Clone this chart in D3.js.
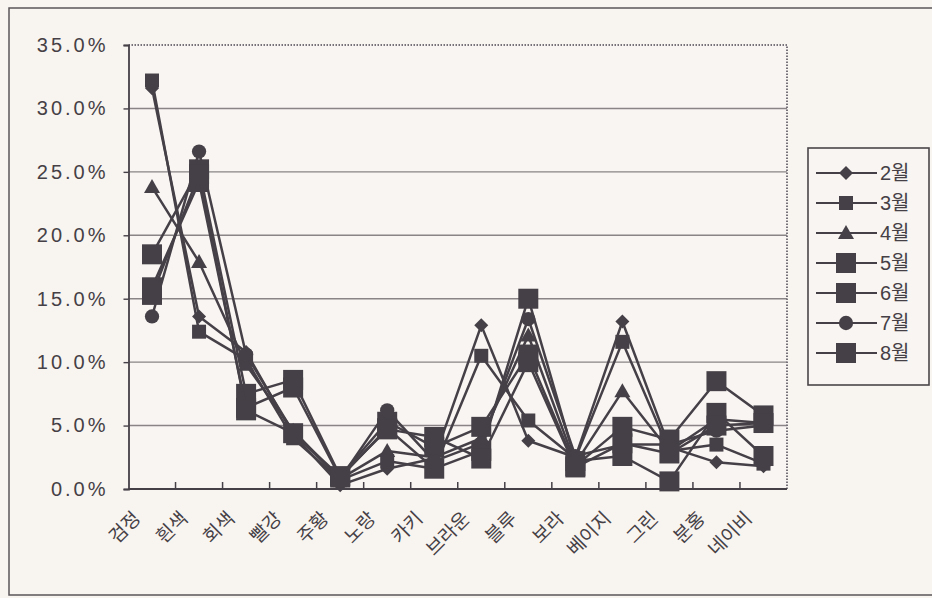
<!DOCTYPE html>
<html>
<head>
<meta charset="utf-8">
<script src="https://cdn.jsdelivr.net/npm/d3@7"></script>
<style>
  html, body { margin: 0; padding: 0; background: #f8f4f0; }
  svg { display: block; }
  text { font-family: "Liberation Sans", "Noto Sans CJK KR", sans-serif; fill: #454045; }
</style>
</head>
<body>
<svg id="chart" width="932" height="598"></svg>
<script>
// Colour categories (x axis)
const categories = ["검정", "흰색", "회색", "빨강", "주황", "노랑", "카키", "브라운", "블루", "보라", "베이지", "그린", "분홍", "네이비"];

// Monthly share per colour (%)
const feb = [31.6, 13.6, 10.8, 4.3, 0.3, 1.6, 2.4, 12.9, 3.8, 2.5, 13.2, 3.3, 2.1, 1.8];
const mar = [32.2, 12.4, 10.2, 4.0, 0.7, 2.2, 1.6, 10.5, 5.4, 2.4, 11.6, 3.0, 3.5, 2.0];
const apr = [23.8, 17.9, 9.8, 4.6, 0.8, 3.0, 2.5, 4.0, 12.1, 2.0, 7.7, 3.0, 5.5, 5.2];
const may = [18.5, 25.2, 7.5, 8.6, 1.0, 5.3, 3.3, 4.9, 10.6, 1.8, 4.9, 3.9, 8.5, 5.8];
const jun = [15.9, 24.2, 6.4, 8.0, 0.9, 4.8, 1.6, 3.0, 15.0, 2.2, 2.6, 0.6, 6.0, 2.6];
const jul = [13.6, 26.6, 10.6, 4.5, 0.8, 6.2, 2.2, 3.6, 13.4, 2.6, 3.5, 3.5, 4.6, 5.0];
const aug = [15.3, 24.8, 6.2, 4.4, 1.0, 4.7, 4.1, 2.4, 10.0, 1.7, 3.6, 2.8, 5.0, 5.2];

const seriesNames = ["2월", "3월", "4월", "5월", "6월", "7월", "8월"];
const seriesValues = [feb, mar, apr, may, jun, jul, aug];
const seriesMarkers = ["diamond", "smallSquare", "triangle", "bigSquare", "bigSquare", "circle", "bigSquare"];

// Y axis ticks (%)
const yTicks = [0, 5, 10, 15, 20, 25, 30, 35];

const ink = "#454047";
const svg = d3.select("#chart");

const plot = { left: 128.5, right: 787, top: 45, bottom: 489 };

const x = d3.scaleBand().domain(categories).range([plot.left, plot.right]).padding(0);
const y = d3.scaleLinear().domain([0, 35]).range([plot.bottom, plot.top]);

// outer frame
svg.append("rect")
  .attr("x", 9).attr("y", 8).attr("width", 940).attr("height", 587)
  .attr("fill", "#f8f4f0").attr("stroke", "#5a5558").attr("stroke-width", 1.5);

// plot background
svg.append("rect")
  .attr("x", plot.left).attr("y", plot.top)
  .attr("width", plot.right - plot.left).attr("height", plot.bottom - plot.top)
  .attr("fill", "#f8f5f2");

// gridlines
svg.append("g").selectAll("line")
  .data(yTicks.filter(d => d > 0 && d < 35))
  .join("line")
  .attr("x1", plot.left).attr("x2", plot.right)
  .attr("y1", d => y(d)).attr("y2", d => y(d))
  .attr("stroke", "#8a8486").attr("stroke-width", 1.4);

// dotted top and right border of the plot area
svg.append("path")
  .attr("d", `M${plot.left},${plot.top}H${plot.right}V${plot.bottom}`)
  .attr("fill", "none").attr("stroke", "#77727a").attr("stroke-width", 2)
  .attr("stroke-dasharray", "1.5,1.5");

// y axis
const yAxis = svg.append("g")
  .attr("transform", `translate(${plot.left},0)`)
  .call(d3.axisLeft(y).tickValues(yTicks).tickSize(5).tickPadding(15)
    .tickFormat(d => d.toFixed(1) + "%"));
yAxis.select(".domain").attr("stroke", ink).attr("stroke-width", 1.8);
yAxis.selectAll(".tick line").attr("stroke", ink).attr("stroke-width", 1.4);
yAxis.selectAll(".tick text")
  .style("font-size", "20px").style("letter-spacing", "3px")
  .attr("fill", "#4a4548");

// x axis line with inner ticks between categories
svg.append("line")
  .attr("x1", plot.left).attr("x2", plot.right)
  .attr("y1", plot.bottom).attr("y2", plot.bottom)
  .attr("stroke", ink).attr("stroke-width", 1.8);
svg.append("g").selectAll("line")
  .data(categories.slice(1))
  .join("line")
  .attr("x1", d => x(d)).attr("x2", d => x(d))
  .attr("y1", plot.bottom).attr("y2", plot.bottom - 7)
  .attr("stroke", ink).attr("stroke-width", 1.5);

// x labels, rotated
svg.append("g").selectAll("text")
  .data(categories)
  .join("text")
  .attr("transform", d => `translate(${x(d) + x.bandwidth() / 2 - 15},${plot.bottom + 26}) rotate(-45)`)
  .attr("text-anchor", "end")
  .attr("dy", "0.35em")
  .style("font-size", "19px")
  .attr("fill", "#4a4548")
  .text(d => d);

// marker shapes
function markerPath(type) {
  switch (type) {
    case "diamond": { const r = 7; return `M0,${-r}L${r},0L0,${r}L${-r},0Z`; }
    case "smallSquare": { const h = 7; return `M${-h},${-h}H${h}V${h}H${-h}Z`; }
    case "bigSquare": { const h = 10; return `M${-h},${-h}H${h}V${h}H${-h}Z`; }
    case "triangle": { const r = 8; return `M0,${-r}L${r},${r * 0.75}L${-r},${r * 0.75}Z`; }
    case "circle": return d3.symbol(d3.symbolCircle, 160)();
  }
}

const line = d3.line()
  .x((d, i) => x(categories[i]) + x.bandwidth() / 2)
  .y(d => y(d));

const seriesG = svg.append("g").selectAll("g")
  .data(seriesValues)
  .join("g");

seriesG.append("path")
  .attr("d", d => line(d))
  .attr("fill", "none")
  .attr("stroke", ink)
  .attr("stroke-width", 2.5)
  .attr("stroke-linejoin", "round");

seriesG.each(function(vals, si) {
  d3.select(this).selectAll("path.m")
    .data(vals)
    .join("path")
    .attr("class", "m")
    .attr("transform", (d, i) => `translate(${x(categories[i]) + x.bandwidth() / 2},${y(d)})`)
    .attr("d", markerPath(seriesMarkers[si]))
    .attr("fill", ink);
});

// legend
const lg = svg.append("g");
lg.append("rect")
  .attr("x", 808).attr("y", 148).attr("width", 121).attr("height", 237)
  .attr("fill", "#f8f5f2").attr("stroke", "#4a4548").attr("stroke-width", 1.6);

const legendItems = lg.selectAll("g")
  .data(seriesNames)
  .join("g")
  .attr("transform", (d, i) => `translate(0,${173 + i * 30})`);

legendItems.append("line")
  .attr("x1", 816).attr("x2", 877).attr("y1", 0).attr("y2", 0)
  .attr("stroke", ink).attr("stroke-width", 2);
legendItems.append("path")
  .attr("transform", "translate(846,0)")
  .attr("d", (d, i) => markerPath(seriesMarkers[i]))
  .attr("fill", ink);
legendItems.append("text")
  .attr("x", 880).attr("dy", "0.36em")
  .style("font-size", "20px")
  .attr("fill", "#4a4548")
  .text(d => d);
</script>
</body>
</html>
